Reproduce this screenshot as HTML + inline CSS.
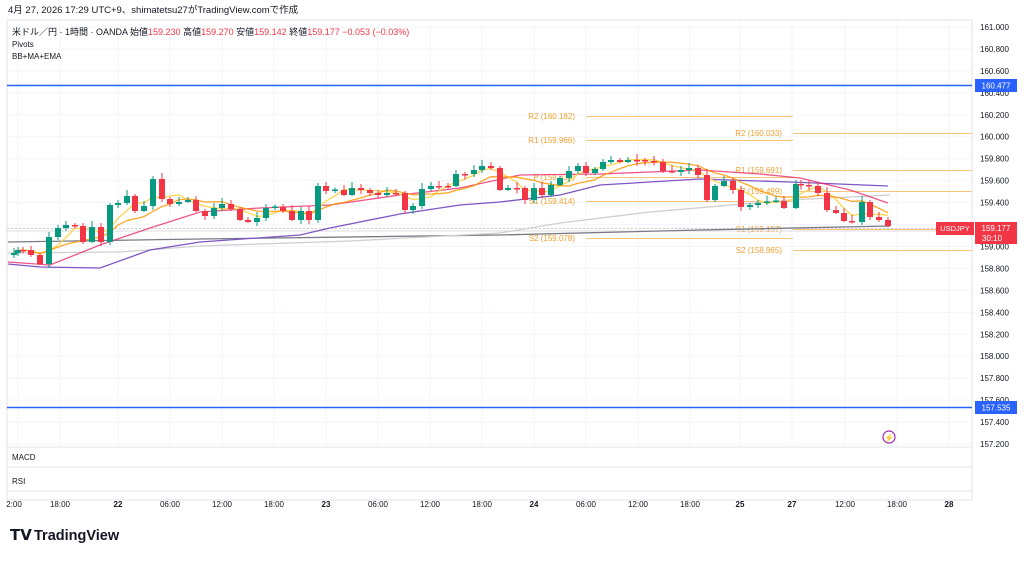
<!DOCTYPE html>
<html><head><meta charset="utf-8"><style>
body{margin:0;background:#fff;width:1024px;height:556px;overflow:hidden;font-family:"Liberation Sans","Noto Sans CJK JP",sans-serif;}
svg text{font-family:"Liberation Sans","Noto Sans CJK JP",sans-serif;}
</style></head><body>
<svg id="s" width="1024" height="556" xmlns="http://www.w3.org/2000/svg">
<rect x="0" y="0" width="1024" height="556" fill="#fff"/>
<text x="8" y="13" font-size="9.5" fill="#131722">4月 27, 2026 17:29 UTC+9、shimatetsu27がTradingView.comで作成</text>
<g id="grid"></g>
<rect x="7" y="20" width="965" height="480" fill="none" stroke="#e0e3eb" stroke-width="1"/>
<line x1="7" y1="447" x2="972" y2="447" stroke="#e0e3eb"/>
<line x1="7" y1="467" x2="972" y2="467" stroke="#e0e3eb"/>
<line x1="7" y1="491" x2="972" y2="491" stroke="#e0e3eb"/>
<text x="12" y="35" font-size="9" fill="#131722">米ドル／円 · 1時間 · OANDA  始値<tspan fill="#f23645">159.230</tspan>  高値<tspan fill="#f23645">159.270</tspan>  安値<tspan fill="#f23645">159.142</tspan>  終値<tspan fill="#f23645">159.177  −0.053 (−0.03%)</tspan></text>
<text x="12" y="47" font-size="8" fill="#131722">Pivots</text>
<text x="12" y="59" font-size="8" fill="#131722">BB+MA+EMA</text>
<line x1="7" y1="85.5" x2="972" y2="85.5" stroke="#2962ff" stroke-width="1.5"/>
<line x1="7" y1="407.5" x2="972" y2="407.5" stroke="#2962ff" stroke-width="1.5"/>
<g stroke="#f7c57a" stroke-width="1">
<line x1="586" y1="116.5" x2="793" y2="116.5"/><line x1="586" y1="140.5" x2="793" y2="140.5"/>
<line x1="586" y1="177.5" x2="793" y2="177.5"/><line x1="586" y1="201.5" x2="793" y2="201.5"/>
<line x1="586" y1="238.5" x2="793" y2="238.5"/>
<line x1="793" y1="133.5" x2="972" y2="133.5"/><line x1="793" y1="170.5" x2="972" y2="170.5"/>
<line x1="793" y1="191.5" x2="972" y2="191.5"/><line x1="793" y1="229.5" x2="972" y2="229.5"/>
<line x1="793" y1="250.5" x2="972" y2="250.5"/>
</g>
<g font-size="8" fill="#f0a030" text-anchor="end">
<text x="575" y="119">R2 (160.182)</text><text x="575" y="143">R1 (159.966)</text>
<text x="575" y="180">P (159.637)</text><text x="575" y="204">S1 (159.414)</text>
<text x="575" y="241">S2 (159.078)</text>
<text x="782" y="136">R2 (160.033)</text><text x="782" y="173">R1 (159.691)</text>
<text x="782" y="194">P (159.499)</text><text x="782" y="232">S1 (159.157)</text>
<text x="782" y="253">S2 (158.965)</text>
</g>
<line x1="7" y1="228.5" x2="972" y2="228.5" stroke="#c8c8c8" stroke-dasharray="2,2"/>
<line x1="7" y1="231" x2="972" y2="231" stroke="#dcdcdc"/>
<polyline fill="none" stroke="#787b86" stroke-width="1.3" points="8,242 200,239 500,235 700,230 890,226"/>
<polyline fill="none" stroke="#cfcfcf" stroke-width="1.3" points="8,253 120,252 200,246 350,241 500,233 560,223 650,212 790,200 890,195"/>
<polyline fill="none" stroke="#7e57c2" stroke-width="1.3" points="8,264 40,267 100,268 150,250 200,242 300,235 330,228 400,214 460,205 500,202 560,195 600,185 700,179 790,182 888,186"/>
<polyline fill="none" stroke="#e91e63" stroke-opacity="0.75" stroke-width="1.3" points="8,262 50,265 100,245 150,228 200,212 260,208 330,205 400,195 460,188 520,175 600,174 700,170 760,174 800,178 850,190 888,203"/>
<g id="ma"></g>
<g id="candles"></g>
<g id="axis" font-size="8" fill="#131722"></g>
<rect x="975" y="79" width="42" height="13" fill="#2962ff"/><text x="996" y="88.5" font-size="8" fill="#fff" text-anchor="middle">160.477</text>
<rect x="975" y="401" width="42" height="13" fill="#2962ff"/><text x="996" y="410.5" font-size="8" fill="#fff" text-anchor="middle">157.535</text>
<rect x="936" y="222" width="38" height="13" fill="#f23645"/><text x="955" y="231" font-size="7.5" fill="#fff" text-anchor="middle">USDJPY</text>
<rect x="975" y="222" width="42" height="22" fill="#f23645"/><text x="996" y="231" font-size="8" fill="#fff" text-anchor="middle">159.177</text><text x="982" y="241" font-size="8" fill="#fff">30:10</text>
<circle cx="889" cy="437" r="6" fill="none" stroke="#9c27b0" stroke-width="1.2"/><text x="889" y="440.5" font-size="8" fill="#e91e63" text-anchor="middle">⚡</text>
<text x="12" y="460" font-size="8" fill="#131722">MACD</text>
<text x="12" y="484" font-size="8" fill="#131722">RSI</text>
<g id="time" font-size="8" fill="#131722" text-anchor="middle"></g>
<text x="10" y="540" font-size="15" font-weight="bold" fill="#131722">𝗧𝗩</text>
<text x="34" y="540" font-size="14.5" font-weight="bold" fill="#131722">TradingView</text>
</svg>
<script>
var NS="http://www.w3.org/2000/svg";
function el(p,t,a,txt){var e=document.createElementNS(NS,t);for(var k in a)e.setAttribute(k,a[k]);if(txt!=null)e.textContent=txt;document.getElementById(p).appendChild(e);return e;}
function Y(p){return 27+(161-p)*109.74;}
var xs=[18,60,118,170,222,274,326,378,430,482,534,586,638,690,740,792,845,897,949];
var tl=["2:00","18:00","22","06:00","12:00","18:00","23","06:00","12:00","18:00","24","06:00","12:00","18:00","25","27","12:00","18:00","28"];
xs.forEach(function(x,i){el("grid","line",{x1:x,y1:20,x2:x,y2:447,stroke:"#f3f5fa"});el("time","text",{x:i==0?14:x,y:507,"font-weight":(tl[i].indexOf(":")<0?"bold":"normal")},tl[i]);});
for(var i=0;i<=19;i++){var p=161-i*0.2,y=Y(p);el("grid","line",{x1:7,y1:y,x2:972,y2:y,stroke:"#f3f5fa"});if(i!=9)el("axis","text",{x:980,y:y+3},p.toFixed(3));}
var c=[[14,253],[18,250],[23,250],[31,255],[40,264],[49,237],[58,228],[66,225],[75,226],[83,242],[92,227],[101,242],[110,205],[118,203],[127,196],[135,211],[144,206],[153,179],[162,199],[170,204],[179,202],[188,200],[196,211],[205,216],[214,208],[222,204],[231,209],[240,220],[248,222],[257,218],[266,208],[275,207],[283,211],[292,220],[301,211],[309,220],[318,186],[326,191],[335,190],[344,195],[352,188],[361,190],[370,193],[378,195],[387,193],[396,193],[405,210],[413,206],[422,189],[431,186],[439,186],[448,186],[456,174],[465,174],[474,170],[482,166],[491,168],[500,190],[508,188],[517,188],[525,200],[534,188],[542,195],[551,185],[560,178],[569,171],[578,166],[586,173],[595,169],[603,162],[611,160],[620,162],[628,160],[637,160],[645,161],[654,162],[663,171],[672,172],[681,170],[689,168],[698,175],[707,200],[715,186],[724,181],[733,190],[741,207],[750,205],[758,203],[767,202],[776,201],[784,208],[796,184],[801,185],[809,186],[818,193],[827,210],[836,213],[844,221],[852,222],[862,202],[870,217],[879,220],[888,226]];
var prev=c[0][1]+2,cl=[];
c.forEach(function(d){var o=prev,cc=d[1];if(Math.abs(o-cc)<1.5)cc=o+(cc>=o?1.5:-1.5);var up=cc<o,col=up?"#089981":"#f23645";
var t=Math.min(o,cc),b=Math.max(o,cc);var w=(d[0]*7)%5+2;
el("candles","line",{x1:d[0],y1:t-w,x2:d[0],y2:b+((d[0]*3)%4+1),stroke:col,"stroke-width":1});
el("candles","rect",{x:d[0]-3,y:t,width:6,height:b-t,fill:col});prev=d[1];cl.push(d[1]);});
function sma(n){var pts=[];for(var i=0;i<c.length;i++){var s=0,k=0;for(var j=Math.max(0,i-n+1);j<=i;j++){s+=cl[j];k++;}pts.push(c[i][0]+","+(s/k-1).toFixed(1));}return pts.join(" ");}
el("ma","polyline",{points:sma(4),fill:"none",stroke:"#ffd54f","stroke-width":1.3});
el("ma","polyline",{points:sma(9),fill:"none",stroke:"#ff9800","stroke-width":1.3,"stroke-opacity":0.85});
</script>
</body></html>
